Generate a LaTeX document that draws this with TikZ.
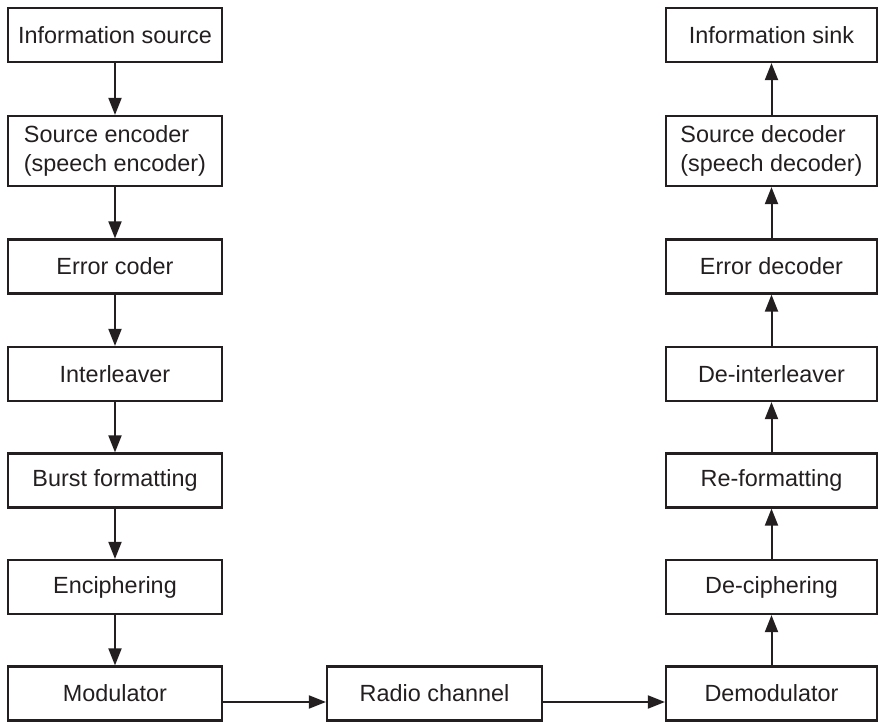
\documentclass[tikz,border=0pt]{standalone}
\usepackage{fontspec}
\setmainfont{Liberation Sans}
\usetikzlibrary{arrows.meta}
\definecolor{ink}{HTML}{231F20}

\begin{document}
\begin{tikzpicture}[x=1pt,y=1pt,
	block/.style={draw=ink,line width=2.2pt,minimum height=54pt,inner sep=0pt,text=ink,font=\fontsize{23.4}{29}\selectfont},
	lblock/.style={block,minimum width=214pt},
	rblock/.style={block,minimum width=211pt},
	flow/.style={draw=ink,line width=2pt,-{Triangle[length=17pt,width=13pt]}}]
	\useasboundingbox (0,0) rectangle (879,721);
	%Transmitter
	\node[lblock] (src) at (115,686) {Information source};
	\node[lblock,minimum height=70pt,align=left] (senc) at (115,570) {Source encoder\\(speech encoder)};
	\node[lblock] (ecod) at (115,454.5) {Error coder};
	\node[lblock] (ilv) at (115,347) {Interleaver};
	\node[lblock] (bfmt) at (115,240.5) {Burst formatting};
	\node[lblock] (enc) at (115,134) {Enciphering};
	\node[lblock] (mod) at (115,27.5) {Modulator};
	%Channel
	\node[block,minimum width=215pt] (chan) at (434.5,27.5) {Radio channel};
	%Receiver
	\node[rblock] (demod) at (771.5,27.5) {Demodulator};
	\node[rblock] (dec) at (771.5,134) {De-ciphering};
	\node[rblock] (rfmt) at (771.5,240.5) {Re-formatting};
	\node[rblock] (dilv) at (771.5,347) {De-interleaver};
	\node[rblock] (edec) at (771.5,454.5) {Error decoder};
	\node[rblock,minimum height=70pt,align=left] (sdec) at (771.5,570) {Source decoder\\(speech decoder)};
	\node[rblock] (sink) at (771.5,686) {Information sink};
	%Arrows
	\draw[flow] (src) -- (senc);
	\draw[flow] (senc) -- (ecod);
	\draw[flow] (ecod) -- (ilv);
	\draw[flow] (ilv) -- (bfmt);
	\draw[flow] (bfmt) -- (enc);
	\draw[flow] (enc) -- (mod);
	\draw[flow] ([yshift=-8.5pt]mod.east) -- ([yshift=-8.5pt]chan.west);
	\draw[flow] ([yshift=-8.5pt]chan.east) -- ([yshift=-8.5pt]demod.west);
	\draw[flow] (demod) -- (dec);
	\draw[flow] (dec) -- (rfmt);
	\draw[flow] (rfmt) -- (dilv);
	\draw[flow] (dilv) -- (edec);
	\draw[flow] (edec) -- (sdec);
	\draw[flow] (sdec) -- (sink);
\end{tikzpicture}
\end{document}
